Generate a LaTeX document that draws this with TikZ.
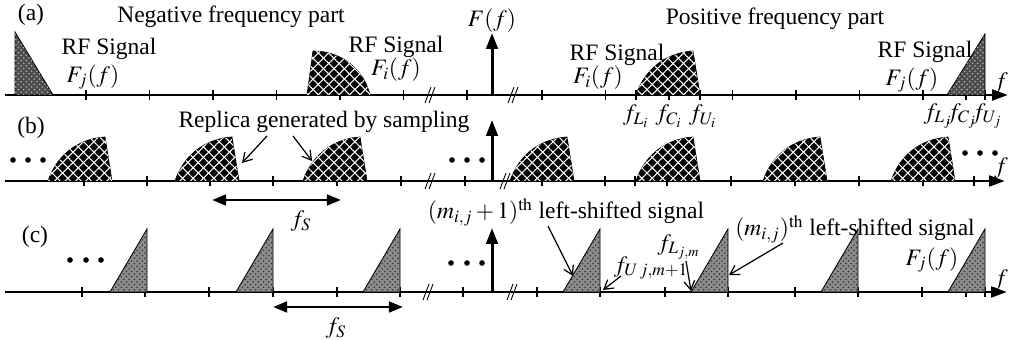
\documentclass[tikz,border=0pt]{standalone}
\usepackage{mathptmx}
\usepackage{fontspec}
\setmainfont{Liberation Serif}
\usetikzlibrary{patterns,patterns.meta,arrows.meta}
\tikzset{
  xhatch/.style={fill=black,draw=black,line width=0.4pt,
    postaction={pattern={Lines[angle=45,distance=4.2pt,line width=0.6pt]},pattern color=white},
    postaction={pattern={Lines[angle=-45,distance=4.2pt,line width=0.6pt]},pattern color=white}}}
\newcommand\crossshape[2]{%
  \fill[xhatch]
    (#1,#2) .. controls (#1+8,#2-24) and (#1+28,#2-42) .. (#1+57,#2-44) -- (#1+64,#2) -- cycle;}
\newcommand\ctri[2]{%
  \fill[black!45,draw=black,line width=0.5pt,
    postaction={pattern=crosshatch dots,pattern color=black!80}]
    (#1-37,#2) -- (#1,#2-63) -- (#1,#2) -- cycle;}
\newcommand\axisbreak[2]{%
  \draw[line width=0.5pt] (#1-5,#2+8)--(#1+1,#2-8) (#1-1,#2+8)--(#1+5,#2-8);}
\begin{document}
\begin{tikzpicture}[x=0.02cm,y=-0.02cm,
  lbl/.style={font=\fontsize{13.4}{15}\selectfont, inner sep=0pt},
  axisline/.style={line width=1.7pt,-{Triangle[length=9pt,width=6pt]}},
  uparrow/.style={line width=1.7pt,-{Triangle[length=9pt,width=6.5pt]}},
  tickmark/.style={line width=0.6pt},
  ptr/.style={line width=0.7pt,-{Straight Barb[length=5pt,width=6pt]}},
  fsarrow/.style={line width=1.7pt,{Triangle[length=8pt,width=6pt]}-{Triangle[length=8pt,width=6pt]}},
  darktri/.style={fill=black!70,draw=black,line width=0.5pt,
    postaction={pattern=crosshatch dots,pattern color=black!30}},
  dot/.style={circle,fill=black,inner sep=0pt,minimum size=3.2pt}]
\useasboundingbox (0,0) rectangle (1013,340);

% ---------------- (a) ----------------
\coordinate (a0) at (5,95);
\coordinate (a1) at (1008,95);
\draw[axisline] (a0) -- (a1);
\foreach \x in {86,149.5,213,276.5,340,403.5,467,542,605.5,636,669,700,732.5,796,859.5,923,966,985}
  \draw[tickmark] (\x,90) -- (\x,100);
\axisbreak{430}{95}
\axisbreak{513}{95}
\fill[darktri] (15,95) -- (15,32) -- (53,95) -- cycle;
\fill[xhatch]
  (307,95) -- (313,51) .. controls (342,51) and (364,70) .. (370,95) -- cycle;
\crossshape{636}{95}
\fill[darktri] (947,95) -- (985,34) -- (985,95) -- cycle;
\coordinate (aB) at (492,95);
\coordinate (aT) at (492,33);
\draw[uparrow] (aB) -- (aT);
\node[lbl] (la) at (31,15) {(a)};
\node[lbl] (neg) at (231,17) {Negative frequency part};
\node[lbl] (Ff) at (492,21) {$F(f)$};
\node[lbl] (pos) at (775,19) {Positive frequency part};
\node[lbl] (rf1) at (109,49) {RF Signal};
\node[lbl] (Fj1) at (93,77) {$F_j(f)$};
\node[lbl] (rf2) at (396,47) {RF Signal};
\node[lbl] (Fi2) at (396,70) {$F_i(f)$};
\node[lbl] (rf3) at (617,55) {RF Signal};
\node[lbl] (Fi3) at (598,78) {$F_i(f)$};
\node[lbl] (rf4) at (925,52) {RF Signal};
\node[lbl] (Fj4) at (912,80) {$F_j(f)$};
\node[lbl] (fa) at (1001,83) {$f$};
\node[lbl] (fLi) at (636,116) {$f_{L_i}$};
\node[lbl] (fCi) at (669,116) {$f_{C_i}$};
\node[lbl] (fUi) at (703,116) {$f_{U_i}$};
\node[lbl] (fLj) at (938,116) {$f_{L_j}$};
\node[lbl] (fCj) at (962,116) {$f_{C_j}$};
\node[lbl] (fUj) at (987,116) {$f_{U_j}$};

% ---------------- (b) ----------------
\coordinate (b0) at (5,181);
\coordinate (b1) at (1005,181);
\draw[axisline] (b0) -- (b1);
\foreach \x in {84,147,210,273,337,401,465,542,605,635,667,731,795,859,923,974}
  \draw[tickmark] (\x,176) -- (\x,186);
\axisbreak{430}{181}
\axisbreak{505}{181}
\foreach \x in {48,175,303,510,636,763,891}
  \crossshape{\x}{181}
\coordinate (bB) at (492,181);
\coordinate (bT) at (492,120);
\draw[uparrow] (bB) -- (bT);
\node[lbl] (lb) at (31,128) {(b)};
\node[lbl] (rep) at (324,122) {Replica generated by sampling};
\node[dot] (bd1) at (13,160) {};
\node[dot] (bd2) at (28,160) {};
\node[dot] (bd3) at (43,160) {};
\node[dot] (bd4) at (452,160) {};
\node[dot] (bd5) at (467,160) {};
\node[dot] (bd6) at (482,160) {};
\node[dot] (bd7) at (965,153) {};
\node[dot] (bd8) at (980,153) {};
\node[dot] (bd9) at (995,153) {};
\node[lbl] (fb) at (1001,168) {$f$};
\coordinate (r1s) at (267,136);
\coordinate (r1e) at (242,163);
\coordinate (r2s) at (293,136);
\coordinate (r2e) at (312,161);
\draw[ptr] (r1s) -- (r1e);
\draw[ptr] (r2s) -- (r2e);
\coordinate (fs1a) at (212,200);
\coordinate (fs1b) at (341,200);
\draw[fsarrow] (fs1a) -- (fs1b);
\node[lbl] (fs1) at (301,221) {$f_S$};

% ---------------- (c) ----------------
\coordinate (c0) at (5,292);
\coordinate (c1) at (1007,292);
\draw[axisline] (c0) -- (c1);
\foreach \x in {82,145,209,273,337,400,463,537,600,665,728,795,858,922,966,985}
  \draw[tickmark] (\x,287) -- (\x,297);
\axisbreak{428}{292}
\axisbreak{512}{292}
\foreach \x in {147,273,400,600,728,858,985}
  \ctri{\x}{292}
\coordinate (cB) at (492,292);
\coordinate (cT) at (492,228);
\draw[uparrow] (cB) -- (cT);
\node[lbl] (lc) at (35,237) {(c)};
\node[dot] (cd1) at (70,260) {};
\node[dot] (cd2) at (86,260) {};
\node[dot] (cd3) at (101,260) {};
\node[dot] (cd4) at (451,263) {};
\node[dot] (cd5) at (467,263) {};
\node[dot] (cd6) at (482,263) {};
\node[lbl] (m1) at (566,212) {$(m_{i,j}+1)^{\mathrm{th}}$ left-shifted signal};
\coordinate (m1s) at (548,226);
\coordinate (m1e) at (573,276);
\draw[ptr] (m1s) -- (m1e);
\node[lbl] (m2) at (855,229) {$(m_{i,j})^{\mathrm{th}}$ left-shifted signal};
\coordinate (m2s) at (783,243);
\coordinate (m2e) at (729,275);
\draw[ptr] (m2s) -- (m2e);
\node[lbl] (fLm) at (679,247) {$f_{L_{j,m}}$};
\coordinate (fLs) at (686,261);
\coordinate (fLe) at (691,291);
\draw[ptr] (fLs) -- (fLe);
\node[lbl] (fUm) at (651,268) {$f_{U\,j,m+1}$};
\coordinate (fUs) at (621,276);
\coordinate (fUe) at (603,290);
\draw[ptr] (fUs) -- (fUe);
\node[lbl] (Fjc) at (932,260) {$F_j(f)$};
\node[lbl] (fc) at (1001,280) {$f$};
\coordinate (fs2a) at (273,307);
\coordinate (fs2b) at (403,307);
\draw[fsarrow] (fs2a) -- (fs2b);
\node[lbl] (fs2) at (336,328) {$f_S$};
\end{tikzpicture}
\end{document}
